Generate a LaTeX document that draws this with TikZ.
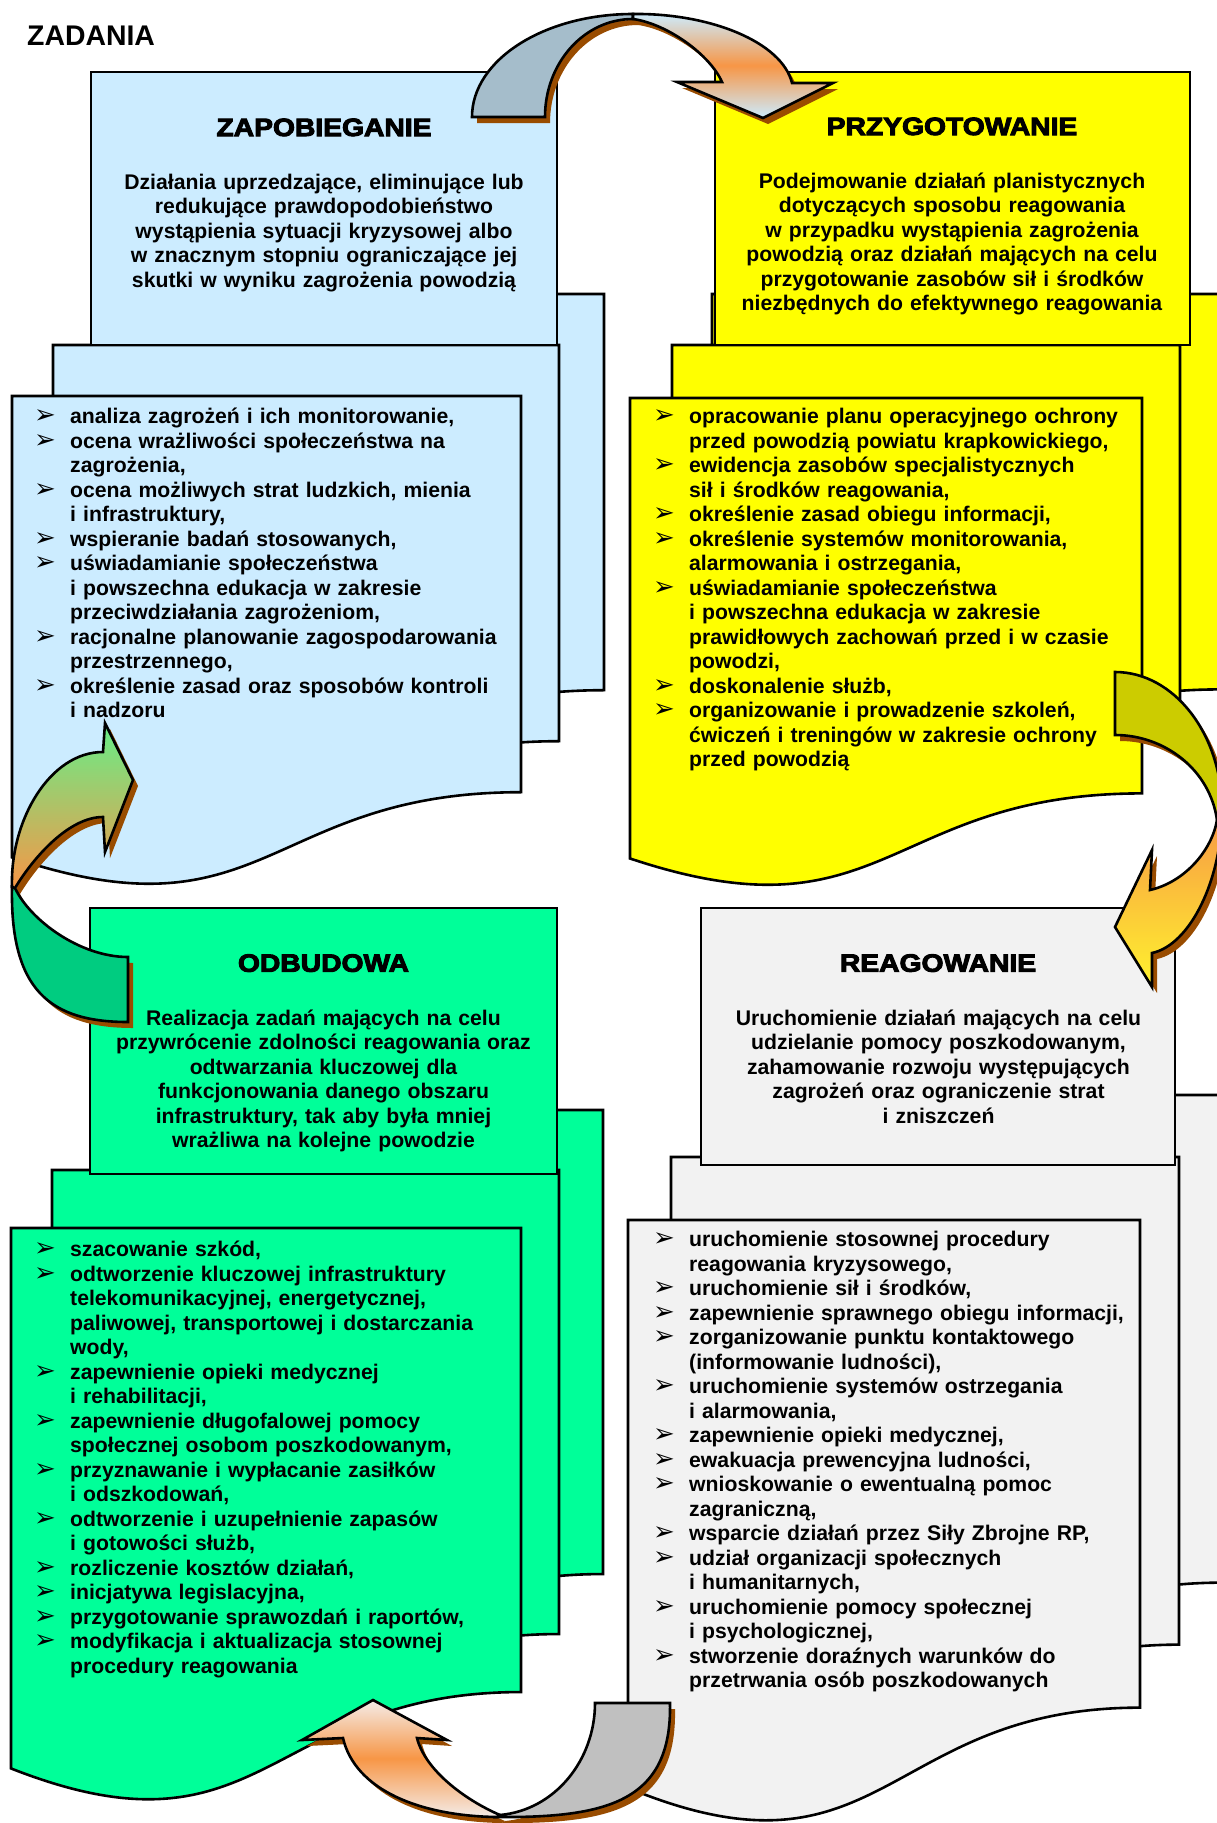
\documentclass[tikz,border=0pt]{standalone}
\usepackage{fontspec}
\setmainfont{Liberation Sans}
\newfontfamily\titlefont[FakeBold=4,FakeStretch=1.13]{Liberation Sans Bold}
\newfontfamily\symfont{DejaVu Sans}

\definecolor{paleblue}{HTML}{CCECFF}
\definecolor{lemon}{HTML}{FFFF00}
\definecolor{mint}{HTML}{00FF99}
\definecolor{pearl}{HTML}{F2F2F2}
\definecolor{steelgrey}{HTML}{A5BDCB}
\definecolor{arrowolive}{HTML}{CCCC00}
\definecolor{arrowgreen}{HTML}{00CC80}
\definecolor{arrowgrey}{HTML}{C0C0C0}
\definecolor{arroworange}{HTML}{F79646}
\definecolor{arrowyellow}{HTML}{FFF22E}
\definecolor{arrowlight}{HTML}{F4ECE8}
\definecolor{arrowmint}{HTML}{66EE88}
\definecolor{shadowbrown}{HTML}{994C00}

\tikzset{
  page/.style={draw=black, line width=2.6pt, line join=miter},
  headbox/.style={draw=black, line width=2.6pt},
  band/.style={draw=black, line width=2.6pt, line join=miter},
  shade3d/.style={fill=shadowbrown, shift={(5,6)}},
  title/.style={font=\titlefont\fontsize{25}{30}\selectfont, inner sep=0pt, anchor=base},
  desc/.style={font=\bfseries\fontsize{21.2}{24.5}\selectfont, text width=470pt, align=center, inner sep=0pt, anchor=base},
  tasks/.style={font=\bfseries\fontsize{21.2}{24.5}\selectfont, text width=500pt, align=left, inner sep=0pt, anchor=base west},
}

% page of the multidocument stack: fill, left x, top y, width, height
\newcommand{\docpage}[5]{%
  \pgfmathsetmacro{\pgxr}{#2+#4}%
  \pgfmathsetmacro{\pgxm}{#2+#4/2}%
  \pgfmathsetmacro{\pgyr}{#3+0.802*#5}%
  \pgfmathsetmacro{\pgyc}{#3+1.1075*#5}%
  \pgfmathsetmacro{\pgyl}{#3+0.934*#5}%
  \filldraw[page, fill=#1] (#2,#3) -- (\pgxr,#3) -- (\pgxr,\pgyr)
    .. controls (\pgxm,\pgyr) and (\pgxm,\pgyc) .. (#2,\pgyl) -- cycle;}

\newcommand{\bul}{\makebox[36pt][l]{\symfont\fontsize{26}{26}\selectfont ➢}}
\newcommand{\cont}{\hspace*{36pt}}

\def\topback{(472,117) .. controls (472,60) and (544,14) .. (633,14) -- (633,19) .. controls (584,19) and (545,63) .. (545,117) -- cycle}
\def\topfront{(633,14) .. controls (710,13) and (782,42) .. (792,83) -- (833,83) -- (763,118) -- (677,82) -- (722,82) .. controls (710,55) and (668,24) .. (633,19) -- cycle}
\def\rightback{(1115,672) .. controls (1174,672) and (1222,734) .. (1222,810) -- (1217,820) .. controls (1210,770) and (1165,735) .. (1115,735) -- cycle}
\def\rightfront{(1222,810) .. controls (1222,880) and (1190,945) .. (1152,953) -- (1152,987) -- (1115,927) -- (1152,850) -- (1150,890) .. controls (1185,882) and (1212,850) .. (1217,820) -- cycle}
\def\bottomback{(670,1703) .. controls (672,1800) and (610,1818) .. (497,1817) -- (500,1815) .. controls (555,1810) and (595,1760) .. (595,1703) -- cycle}
\def\bottomfront{(497,1817) .. controls (420,1816) and (355,1790) .. (343,1738) -- (302,1740) -- (373,1700) -- (447,1740) -- (417,1738) .. controls (425,1770) and (465,1800) .. (500,1815) -- cycle}
\def\leftback{(12,887) .. controls (10,990) and (50,1022) .. (128,1022) -- (128,957) .. controls (80,957) and (30,920) .. (15,888) -- cycle}
\def\leftfront{(12,887) .. controls (10,820) and (50,752) .. (103,752) -- (105,723) -- (133,780) -- (105,852) -- (103,817) .. controls (70,817) and (35,855) .. (15,888) -- cycle}

\begin{document}
\begin{tikzpicture}[x=1pt, y=-1pt]
  \useasboundingbox[fill=white] (0,0) rectangle (1217,1823);

  \node[font=\bfseries\fontsize{28.4}{30}\selectfont, inner sep=0pt, anchor=base west] (zadania) at (27,45) {ZADANIA};

  % ZAPOBIEGANIE
  \docpage{paleblue}{94}{294}{510}{494}
  \docpage{paleblue}{53}{345}{506}{494}
  \filldraw[headbox, fill=paleblue] (91,72) rectangle (557,345);
  \docpage{paleblue}{12}{396}{509}{494}

  % PRZYGOTOWANIE
  \docpage{lemon}{712}{294}{509}{493}
  \docpage{lemon}{672}{345}{508}{493}
  \filldraw[headbox, fill=lemon] (715,72) rectangle (1190,345);
  \docpage{lemon}{630}{398}{512}{493}

  % ODBUDOWA
  \docpage{mint}{93}{1110}{510}{578.6}
  \docpage{mint}{52}{1170}{507}{578.6}
  \filldraw[headbox, fill=mint] (90,908) rectangle (557,1174);
  \docpage{mint}{11}{1228}{510}{578.6}

  % REAGOWANIE
  \docpage{pearl}{712}{1095}{510}{608}
  \docpage{pearl}{671}{1157}{508}{608}
  \filldraw[headbox, fill=pearl] (701,908) rectangle (1175,1165);
  \docpage{pearl}{628}{1220}{512}{608}

  \node[title] (zapTitle) at (324,136) {ZAPOBIEGANIE};
  \node[desc] (zapDesc) at (324,189) {Działania uprzedzające, eliminujące lub\\
    redukujące prawdopodobieństwo\\
    wystąpienia sytuacji kryzysowej albo\\
    w znacznym stopniu ograniczające jej\\
    skutki w wyniku zagrożenia powodzią};
  \node[tasks] (zapList) at (34,423.6) {\bul analiza zagrożeń i ich monitorowanie,\\
    \bul ocena wrażliwości społeczeństwa na\\
    \cont zagrożenia,\\
    \bul ocena możliwych strat ludzkich, mienia\\
    \cont i infrastruktury,\\
    \bul wspieranie badań stosowanych,\\
    \bul uświadamianie społeczeństwa\\
    \cont i powszechna edukacja w zakresie\\
    \cont przeciwdziałania zagrożeniom,\\
    \bul racjonalne planowanie zagospodarowania\\
    \cont przestrzennego,\\
    \bul określenie zasad oraz sposobów kontroli\\
    \cont i nadzoru};

  \node[title] (przTitle) at (952,135) {PRZYGOTOWANIE};
  \node[desc] (przDesc) at (952,188) {Podejmowanie działań planistycznych\\
    dotyczących sposobu reagowania\\
    w przypadku wystąpienia zagrożenia\\
    powodzią oraz działań mających na celu\\
    przygotowanie zasobów sił i środków\\
    niezbędnych do efektywnego reagowania};
  \node[tasks] (przList) at (653,423.6) {\bul opracowanie planu operacyjnego ochrony\\
    \cont przed powodzią powiatu krapkowickiego,\\
    \bul ewidencja zasobów specjalistycznych\\
    \cont sił i środków reagowania,\\
    \bul określenie zasad obiegu informacji,\\
    \bul określenie systemów monitorowania,\\
    \cont alarmowania i ostrzegania,\\
    \bul uświadamianie społeczeństwa\\
    \cont i powszechna edukacja w zakresie\\
    \cont prawidłowych zachowań przed i w czasie\\
    \cont powodzi,\\
    \bul doskonalenie służb,\\
    \bul organizowanie i prowadzenie szkoleń,\\
    \cont ćwiczeń i treningów w zakresie ochrony\\
    \cont przed powodzią};

  \node[title] (odbTitle) at (323.5,971.7) {ODBUDOWA};
  \node[desc] (odbDesc) at (323.5,1025) {Realizacja zadań mających na celu\\
    przywrócenie zdolności reagowania oraz\\
    odtwarzania kluczowej dla\\
    funkcjonowania danego obszaru\\
    infrastruktury, tak aby była mniej\\
    wrażliwa na kolejne powodzie};
  \node[tasks] (odbList) at (34,1256.7) {\bul szacowanie szkód,\\
    \bul odtworzenie kluczowej infrastruktury\\
    \cont telekomunikacyjnej, energetycznej,\\
    \cont paliwowej, transportowej i dostarczania\\
    \cont wody,\\
    \bul zapewnienie opieki medycznej\\
    \cont i rehabilitacji,\\
    \bul zapewnienie długofalowej pomocy\\
    \cont społecznej osobom poszkodowanym,\\
    \bul przyznawanie i wypłacanie zasiłków\\
    \cont i odszkodowań,\\
    \bul odtworzenie i uzupełnienie zapasów\\
    \cont i gotowości służb,\\
    \bul rozliczenie kosztów działań,\\
    \bul inicjatywa legislacyjna,\\
    \bul przygotowanie sprawozdań i raportów,\\
    \bul modyfikacja i aktualizacja stosownej\\
    \cont procedury reagowania};

  \node[title] (reaTitle) at (938,971.7) {REAGOWANIE};
  \node[desc] (reaDesc) at (938.5,1025) {Uruchomienie działań mających na celu\\
    udzielanie pomocy poszkodowanym,\\
    zahamowanie rozwoju występujących\\
    zagrożeń oraz ograniczenie strat\\
    i zniszczeń};
  \node[tasks] (reaList) at (653,1246.7) {\bul uruchomienie stosownej procedury\\
    \cont reagowania kryzysowego,\\
    \bul uruchomienie sił i środków,\\
    \bul zapewnienie sprawnego obiegu informacji,\\
    \bul zorganizowanie punktu kontaktowego\\
    \cont (informowanie ludności),\\
    \bul uruchomienie systemów ostrzegania\\
    \cont i alarmowania,\\
    \bul zapewnienie opieki medycznej,\\
    \bul ewakuacja prewencyjna ludności,\\
    \bul wnioskowanie o ewentualną pomoc\\
    \cont zagraniczną,\\
    \bul wsparcie działań przez Siły Zbrojne RP,\\
    \bul udział organizacji społecznych\\
    \cont i humanitarnych,\\
    \bul uruchomienie pomocy społecznej\\
    \cont i psychologicznej,\\
    \bul stworzenie doraźnych warunków do\\
    \cont przetrwania osób poszkodowanych};

  % curved block arrows of the cycle
  \fill[shade3d] \topback;
  \fill[shade3d] \topfront;
  \filldraw[band, fill=steelgrey] \topback;
  \shadedraw[band, top color=paleblue, bottom color=paleblue, middle color=arroworange] \topfront;

  \fill[shade3d] \rightback;
  \fill[shade3d] \rightfront;
  \filldraw[band, fill=arrowolive] \rightback;
  \shadedraw[band, top color=arroworange, bottom color=arrowyellow] \rightfront;

  \fill[shade3d] \bottomback;
  \fill[shade3d] \bottomfront;
  \filldraw[band, fill=arrowgrey] \bottomback;
  \shadedraw[band, top color=arrowlight, bottom color=arrowlight, middle color=arroworange] \bottomfront;

  \fill[shade3d] \leftback;
  \fill[shade3d] \leftfront;
  \filldraw[band, fill=arrowgreen] \leftback;
  \shadedraw[band, top color=arrowmint, bottom color=arroworange] \leftfront;
\end{tikzpicture}
\end{document}
